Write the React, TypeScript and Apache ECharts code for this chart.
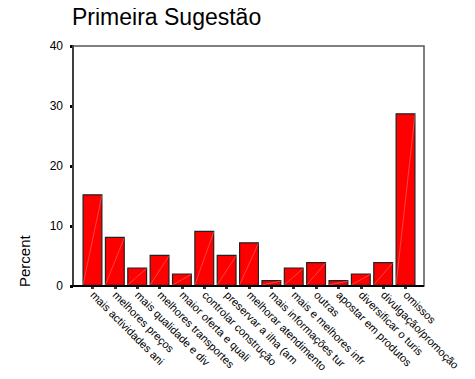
import React, { useEffect, useRef } from "react";
import * as echarts from "echarts";

const title = "Primeira Sugestão";
const yAxisName = "Percent";
const categories = [
  "mais actividades ani",
  "melhores preços",
  "mais qualidade e div",
  "melhores transportes",
  "maior oferta e quali",
  "controlar construção",
  "preservar a ilha (am",
  "melhorar atendimento",
  "mais informações tur",
  "mais e melhores infr",
  "outras",
  "apostar em produtos",
  "diversificar o turis",
  "divulgação/promoção",
  "omissos",
];
const percents = [15.3, 8.2, 3.1, 5.2, 2.1, 9.2, 5.2, 7.3, 1.0, 3.1, 4.0, 1.0, 2.1, 4.0, 28.8];
const yTicks = { min: 0, max: 40, interval: 10 };

const FONT = "'Liberation Sans', Arial, sans-serif";

export default function App() {
  const ref = useRef<HTMLDivElement>(null);
  useEffect(() => {
    if (!ref.current) return;
    const chart = echarts.init(ref.current, undefined, { renderer: "svg" });
    const gridLeft = 81.3;
    const gridRight = 58.3;
    const gridTop = 46;
    const gridBottom = 93;
    chart.setOption({
      animation: false,
      backgroundColor: "#fff",
      title: {
        text: title,
        left: 72,
        top: 5,
        padding: 0,
        textStyle: { fontFamily: FONT, fontSize: 23, fontWeight: "normal", color: "#000" },
      },
      grid: { left: gridLeft, right: gridRight, top: gridTop, bottom: gridBottom },
      xAxis: {
        type: "category",
        data: categories,
        axisLine: { show: false },
        axisTick: { show: true, alignWithLabel: true, length: 3, lineStyle: { color: "#333", width: 3 } },
        axisLabel: {
          interval: 0,
          rotate: -45,
          margin: 7,
          fontFamily: FONT,
          fontSize: 11,
          color: "#000",
        },
      },
      yAxis: {
        type: "value",
        min: yTicks.min,
        max: yTicks.max,
        interval: yTicks.interval,
        offset: 8.3,
        axisLine: { show: true, lineStyle: { color: "#000", width: 2 } },
        axisTick: { show: true, length: 3, lineStyle: { color: "#000", width: 3 } },
        axisLabel: { fontFamily: FONT, fontSize: 12, color: "#000", margin: 10 },
        splitLine: { show: false },
      },
      graphic: [
        {
          type: "rect",
          shape: { x: 73, y: 46, width: 351, height: 240 },
          style: { fill: "none", stroke: "#555", lineWidth: 1.5 },
          silent: true,
          z: 1,
        },
        {
          type: "line",
          shape: { x1: 72, y1: 286, x2: 424, y2: 286 },
          style: { stroke: "#000", lineWidth: 2 },
          silent: true,
          z: 10,
        },
        {
          type: "text",
          x: 32,
          y: 287,
          rotation: Math.PI / 2,
          style: {
            text: yAxisName,
            fontFamily: FONT,
            fontSize: 15,
            fill: "#000",
            textAlign: "left",
            textVerticalAlign: "bottom",
          },
        },
      ],
      series: [
        {
          type: "bar",
          data: percents,
          barWidth: 20,
          itemStyle: { color: "#ff0000", borderColor: "#222", borderWidth: 1.2 },
          z: 2,
        },
        {
          type: "custom",
          data: percents.map((v, i) => [i, v]),
          z: 3,
          silent: true,
          renderItem: (params: any, api: any) => {
            const i = api.value(0);
            const v = api.value(1);
            const top = api.coord([i, v]);
            const bottom = api.coord([i, 0]);
            const half = 9.5;
            return {
              type: "line",
              shape: { x1: top[0] - half, y1: bottom[1] - 1, x2: top[0] + half, y2: top[1] + 1 },
              style: { stroke: "rgba(255,200,200,0.55)", lineWidth: 0.6 },
            };
          },
        },
      ],
    });
    return () => chart.dispose();
  }, []);
  return <div ref={ref} style={{ width: 475, height: 379, margin: -8 }} />;
}
